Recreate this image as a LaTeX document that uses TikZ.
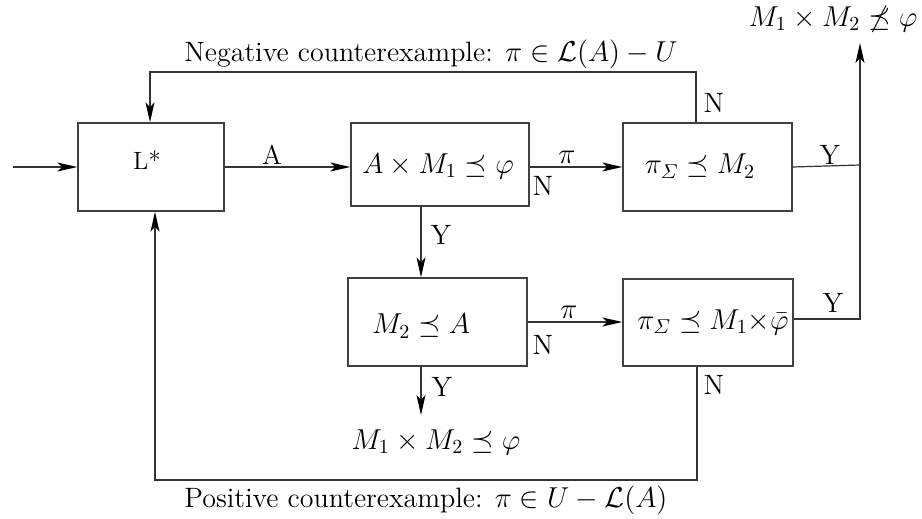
\documentclass[tikz,border=0pt]{standalone}
\usepackage{amsmath,amssymb}
\usetikzlibrary{arrows.meta}
\begin{document}
\begin{tikzpicture}[x=0.5pt,y=-0.5pt,
  box/.style={draw=black!75, line width=0.7pt, inner sep=0pt},
  ln/.style={draw=black!80, line width=0.6pt},
  arr/.style={ln, -{Stealth[length=10pt,width=4.5pt,inset=2.5pt,color=black]}},
  lbl/.style={font=\fontsize{14}{16}\selectfont, inner sep=0pt},
  mth/.style={font=\fontsize{14.5}{17}\selectfont, inner sep=0pt},
  txt/.style={font=\fontsize{14}{16}\selectfont, inner sep=0pt}]
\useasboundingbox (0,0) rectangle (922,519);
% boxes
\node[box, minimum width=73pt, minimum height=44pt] (lstar) at (151,167) {};
\node[box, minimum width=89pt, minimum height=41.5pt] (b2) at (440,164.5) {};
\node[box, minimum width=84.5pt, minimum height=44pt] (b3) at (707.5,167) {};
\node[box, minimum width=89.5pt, minimum height=44pt] (b4) at (437.5,322) {};
\node[box, minimum width=85pt, minimum height=43.5pt] (b5) at (708,322.5) {};
% box texts
\node[font=\fontsize{12.5}{14}\selectfont, inner sep=0pt] (lstart) at (147,160) {L*};
\node[mth] (b2t) at (438,166) {$A\times M_1\preceq\varphi$};
\node[mth] (b3t) at (700,166) {$\pi_{\varSigma}\preceq M_2$};
\node[mth] (b4t) at (421,326) {$M_2\preceq A$};
\node[mth] (b5t) at (713,322) {$\pi_{\varSigma}\preceq M_1{\times}\bar\varphi$};
% results
\node[mth] (res1) at (833,19) {$M_1\times M_2\not\preceq\varphi$};
\node[mth] (res2) at (436,442) {$M_1\times M_2\preceq\varphi$};
% helper coordinates
\coordinate (in) at (13,167);
\coordinate (j1) at (860,165);
\coordinate (j2) at (860,319);
\coordinate (top) at (860,43);
\coordinate (n1) at (696,72);
\coordinate (n2) at (150,72);
\coordinate (v1) at (421,0);
\coordinate (y2) at (421,415);
\coordinate (m1) at (697,480);
\coordinate (m2) at (155,480);
% connectors
\draw[arr] (in) -- (in -| lstar.west);
\draw[arr] (lstar.east) -- (lstar.east -| b2.west);
\draw[arr] (b2.east |- b3.west) -- (b3.west);
\draw[ln] (b3.east) -- (j1);
\draw[arr] (b5.east |- j2) -- (j2) -- (top);
\draw[arr] (b3.north -| n1) -- (n1) -- (n2) -- (n2 |- lstar.north);
\draw[arr] (b2.south -| v1) -- (b4.north -| v1);
\draw[arr] (b4.east) -- (b4.east -| b5.west);
\draw[arr] (b4.south -| v1) -- (y2);
\draw[arr] (b5.south -| m1) -- (m1) -- (m2) -- (m2 |- lstar.south);
% labels
\node[font=\fontsize{13.5}{15}\selectfont, inner sep=0pt] (lA) at (272,155) {A};
\node[lbl] (lpi1) at (567,157) {$\pi$};
\node[lbl] (lN1) at (543,186) {N};
\node[lbl] (lpi2) at (569,312) {$\pi$};
\node[lbl] (lN2) at (543,345) {N};
\node[lbl] (lY1) at (830,155) {Y};
\node[lbl] (lY2) at (833,303) {Y};
\node[lbl] (lN3) at (714,103) {N};
\node[lbl] (lY3) at (441,235) {Y};
\node[lbl] (lY4) at (442,387) {Y};
\node[lbl] (lN4) at (714,385) {N};
% feedback texts
\node[txt, anchor=west] (neg) at (184,54) {Negative counterexample: $\pi\in\mathcal{L}(A)-U$};
\node[txt, anchor=west] (pos) at (184,500) {Positive counterexample: $\pi\in U-\mathcal{L}(A)$};
\end{tikzpicture}
\end{document}
